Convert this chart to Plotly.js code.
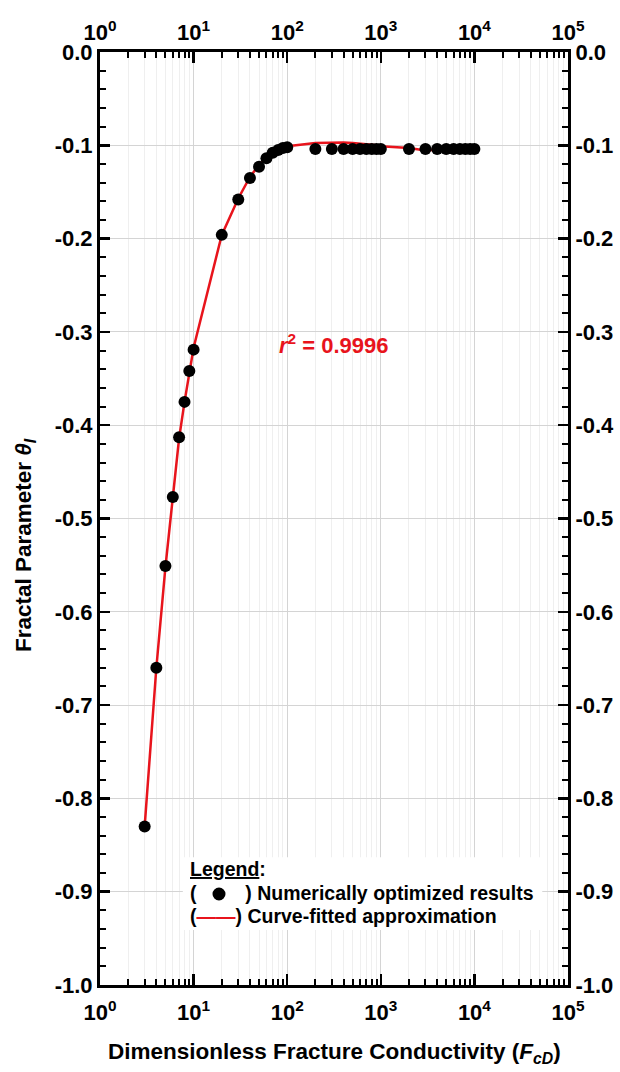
<!DOCTYPE html>
<html>
<head>
<meta charset="utf-8">
<script src="https://cdn.plot.ly/plotly-3.0.1.min.js"></script>
<style>html,body{margin:0;padding:0;background:#fff;}#chart{width:620px;height:1072px;}</style>
</head>
<body>
<div id="chart"></div>
<script>
// Data
var fcd = [3,4,5,6,7,8,9,10,20,30,40,50,60,70,80,90,100,200,300,400,500,600,700,800,900,1000,2000,3000,4000,5000,6000,7000,8000,9000,10000];
var thetaOpt = [-0.830,-0.660,-0.551,-0.477,-0.413,-0.375,-0.342,-0.319,-0.196,-0.158,-0.135,-0.123,-0.114,-0.108,-0.105,-0.103,-0.102,-0.104,-0.104,-0.104,-0.104,-0.104,-0.104,-0.104,-0.104,-0.104,-0.104,-0.104,-0.104,-0.104,-0.104,-0.104,-0.104,-0.104,-0.104];
var fcdFit = [3,4,5,6,7,8,9,10,20,30,40,50,60,70,80,90,100,200,300,400,500,600,700,800,900,1000,2000,3000,4000,5000,6000,7000,8000,9000,10000];
var thetaFit = [-0.830,-0.660,-0.552,-0.477,-0.414,-0.375,-0.343,-0.317,-0.196,-0.157,-0.134,-0.121,-0.113,-0.107,-0.104,-0.102,-0.101,-0.0975,-0.097,-0.097,-0.0975,-0.098,-0.099,-0.0995,-0.100,-0.101,-0.103,-0.1055,-0.1045,-0.104,-0.104,-0.104,-0.104,-0.104,-0.104];
var xTickVals = [1,10,100,1000,10000,100000];
var xTickText = ['10<sup>0</sup>','10<sup>1</sup>','10<sup>2</sup>','10<sup>3</sup>','10<sup>4</sup>','10<sup>5</sup>'];
var yTickVals = [0,-0.1,-0.2,-0.3,-0.4,-0.5,-0.6,-0.7,-0.8,-0.9,-1.0];
var yTickText = ['0.0','-0.1','-0.2','-0.3','-0.4','-0.5','-0.6','-0.7','-0.8','-0.9','-1.0'];

var minorX = [];
for (var k = 0; k < 5; k++) { for (var m = 2; m <= 9; m++) { minorX.push(m * Math.pow(10, k)); } }

var FONT = 'Liberation Sans, Arial, sans-serif';
var RED = '#e8141c';
var tickFont = {family: FONT, size: 22, color: '#000', weight: 'bold'};

function xAxisCfg(extra) {
  var a = {
    type: 'log', range: [0, 5], tickmode: 'array', tickvals: xTickVals, ticktext: xTickText,
    ticks: 'inside', ticklen: 11, tickwidth: 2.5, tickcolor: '#000',
    showline: true, linecolor: '#000', linewidth: 3,
    showgrid: true, gridcolor: '#d4d4d4', gridwidth: 1, zeroline: false,
    tickfont: tickFont,
    minor: {tickmode: 'array', tickvals: minorX, ticks: 'inside', ticklen: 6, tickwidth: 2, tickcolor: '#000', showgrid: true, gridcolor: '#efefef', gridwidth: 1}
  };
  for (var key in extra) a[key] = extra[key];
  return a;
}
function yAxisCfg(extra) {
  var a = {
    range: [-1.0, 0], tickmode: 'array', tickvals: yTickVals, ticktext: yTickText,
    ticks: 'inside', ticklen: 10, tickwidth: 2.5, tickcolor: '#000',
    showline: true, linecolor: '#000', linewidth: 3,
    showgrid: true, gridcolor: '#d4d4d4', gridwidth: 1, zeroline: false,
    tickfont: tickFont,
    minor: {tickmode: 'linear', tick0: 0, dtick: 0.02, ticks: 'inside', ticklen: 6, tickwidth: 2, tickcolor: '#000', showgrid: false}
  };
  for (var key in extra) a[key] = extra[key];
  return a;
}

var traces = [
  {x: fcdFit, y: thetaFit, type: 'scatter', mode: 'lines', line: {color: RED, width: 2.5}, hoverinfo: 'skip', showlegend: false},
  {x: fcd, y: thetaOpt, type: 'scatter', mode: 'markers', marker: {color: '#000', size: 12}, showlegend: false},
  {x: fcd, y: thetaOpt, type: 'scatter', mode: 'markers', marker: {color: 'rgba(0,0,0,0)', size: 1}, xaxis: 'x2', yaxis: 'y2', hoverinfo: 'skip', showlegend: false}
];

var legFont = {family: FONT, size: 19.5, color: '#000'};
function px2paperX(p) { return (p - 100) / 468; }
function px2paperY(p) { return (985 - p) / 933; }

var layout = {
  width: 620, height: 1072,
  margin: {l: 100, r: 52, t: 52, b: 87},
  paper_bgcolor: '#fff', plot_bgcolor: '#fff',
  font: {family: FONT, color: '#000'},
  showlegend: false,
  xaxis: xAxisCfg({ticklabelstandoff: 6}),
  xaxis2: xAxisCfg({overlaying: 'x', side: 'top', anchor: 'y', showgrid: false, minor: {tickmode: 'array', tickvals: minorX, ticks: 'inside', ticklen: 6, tickwidth: 2, tickcolor: '#000', showgrid: false}}),
  yaxis: yAxisCfg({}),
  yaxis2: yAxisCfg({overlaying: 'y', side: 'right', anchor: 'x', showgrid: false}),
  shapes: [
    {type: 'rect', xref: 'paper', yref: 'paper', x0: 0.177, x1: 0.945, y0: 0.059, y1: 0.137, fillcolor: '#fff', line: {width: 0}, layer: 'above'},
    {type: 'circle', xref: 'paper', yref: 'paper', xsizemode: 'pixel', ysizemode: 'pixel',
     xanchor: px2paperX(219), yanchor: px2paperY(894), x0: -6.5, x1: 6.5, y0: -6.5, y1: 6.5,
     fillcolor: '#000', line: {width: 0}, layer: 'above'}
  ],
  annotations: [
    {xref: 'paper', yref: 'paper', x: 0.5, y: 0.687, xanchor: 'center', yanchor: 'middle', showarrow: false,
     text: '<b><i>r</i><sup>2</sup> = 0.9996</b>', font: {family: FONT, size: 22, color: RED}},
    {xref: 'paper', yref: 'paper', x: 0.5, y: -0.0729, xanchor: 'center', yanchor: 'middle', showarrow: false,
     text: '<b>Dimensionless Fracture Conductivity (<i>F<sub>cD</sub></i>)</b>', font: {family: FONT, size: 22.5, color: '#000'}},
    {xref: 'paper', yref: 'paper', x: -0.160, y: 0.4716, xanchor: 'center', yanchor: 'middle', showarrow: false, textangle: -90,
     text: '<b>Fractal Parameter <i>θ<sub>I</sub></i></b>', font: {family: FONT, size: 22.5, color: '#000'}},
    {xref: 'paper', yref: 'paper', x: 0.188, y: px2paperY(869), xanchor: 'left', yanchor: 'middle', showarrow: false, align: 'left',
     text: '<b><u>Legend</u>:</b>', font: legFont},
    {xref: 'paper', yref: 'paper', x: 0.188, y: px2paperY(893), xanchor: 'left', yanchor: 'middle', showarrow: false, align: 'left',
     text: '<b>(         ) Numerically optimized results</b>', font: legFont},
    {xref: 'paper', yref: 'paper', x: 0.188, y: px2paperY(916), xanchor: 'left', yanchor: 'middle', showarrow: false, align: 'left',
     text: '<b>(<span style="color:' + RED + '">——</span>) Curve-fitted approximation</b>', font: legFont}
  ]
};

Plotly.newPlot('chart', traces, layout, {displayModeBar: false, staticPlot: true});
</script>
</body>
</html>
